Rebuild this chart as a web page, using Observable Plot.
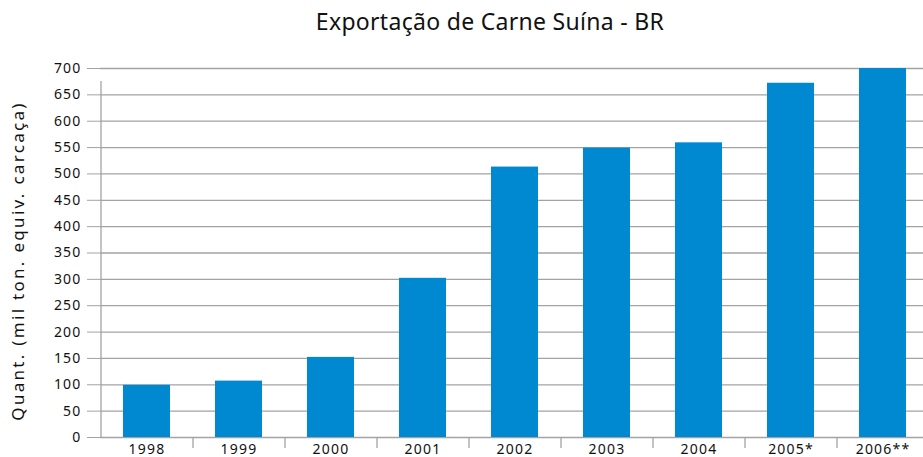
<!DOCTYPE html>
<html>
<head>
<meta charset="utf-8">
<script src="https://cdn.jsdelivr.net/npm/d3@7"></script>
<script src="https://cdn.jsdelivr.net/npm/@observablehq/plot@0.6"></script>
<style>
  body { margin: 0; background: #fff; }
  svg { font-family: "Noto Sans", sans-serif; }
  g[aria-label="y-axis tick label"] text,
  g[aria-label="x-axis tick label"] text { letter-spacing: 1.2px; }
  g.ylab text { letter-spacing: 2.3px; }
  g.ttl text { letter-spacing: 0.3px; }
</style>
</head>
<body>
<div id="chart"></div>
<script>
const title = "Exportação de Carne Suína - BR";
const yLabel = "Quant. (mil ton. equiv. carcaça)";
const years = ["1998", "1999", "2000", "2001", "2002", "2003", "2004", "2005*", "2006**"];
const values = [99, 107, 152, 302, 513, 549, 559, 672, 700];
const yTicks = [0, 50, 100, 150, 200, 250, 300, 350, 400, 450, 500, 550, 600, 650, 700];

const data = years.map((year, i) => ({year, i, value: values[i]}));
const gray = "#a3a3a3";

const chart = Plot.plot({
  width: 923,
  height: 457,
  marginTop: 68,
  marginBottom: 20,
  marginLeft: 100,
  marginRight: 0,
  x: {type: "linear", domain: [0, years.length], range: [100.5, 928.5], axis: null},
  y: {domain: [0, 700], axis: null},
  marks: [
    Plot.gridY(yTicks, {stroke: gray, strokeOpacity: 1, strokeWidth: 1.3}),
    Plot.rectY(data, {x1: "i", x2: d => d.i + 1, y: "value", insetLeft: 22.5, insetRight: 22.5, fill: "#0089d0"}),
    Plot.axisY(yTicks, {tickSize: 13, tickPadding: 6, fontSize: 14, stroke: gray, fill: "#111", label: null}),
    Plot.ruleX([0], {y1: 0, y2: 700, insetBottom: -13, stroke: gray, strokeWidth: 1.3}),
    Plot.axisX(d3.range(1, years.length), {tickSize: 11, tickFormat: () => "", stroke: gray, strokeWidth: 1.3, label: null}),
    Plot.axisX(years.map((d, i) => i + 0.5), {tickSize: 0, tickPadding: 7, fontSize: 14, fill: "#111", tickFormat: d => years[Math.round(d - 0.5)], label: null}),
    Plot.text([yLabel], {frameAnchor: "left", textAnchor: "middle", dx: -82, dy: 8, rotate: -90, fontSize: 17, fill: "#111", className: "ylab"}),
    Plot.text([title], {frameAnchor: "top", dx: -22, dy: -39, lineAnchor: "bottom", fontSize: 23, fill: "#111", className: "ttl"})
  ]
});
document.getElementById("chart").append(chart);
</script>
</body>
</html>
